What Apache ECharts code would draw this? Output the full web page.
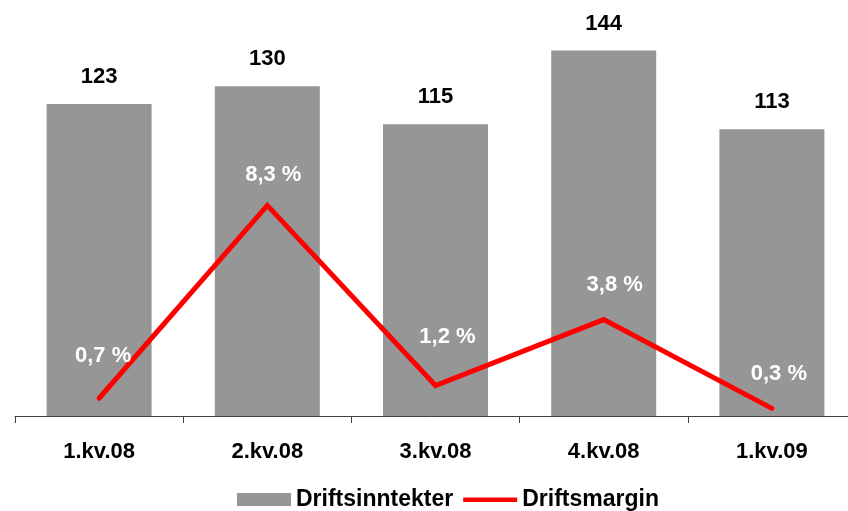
<!DOCTYPE html>
<html>
<head>
<meta charset="utf-8">
<script src="https://cdn.jsdelivr.net/npm/echarts@6/dist/echarts.min.js"></script>
<style>html,body{margin:0;padding:0;background:#fff}#c{width:848px;height:511px}</style>
</head>
<body>
<div id="c"></div>
<script>
var categories = ['1.kv.08', '2.kv.08', '3.kv.08', '4.kv.08', '1.kv.09'];
var driftsinntekter = [123, 130, 115, 144, 113];
var driftsmargin = [0.7, 8.3, 1.2, 3.8, 0.3];
var marginLabelOffsets = [[4, -31], [6, -19], [12, -37], [11, -23], [7, -23]];

var font = '"Liberation Sans", Arial, sans-serif';
var chart = echarts.init(document.getElementById('c'), null, {renderer: 'canvas'});
chart.setOption({
  animation: false,
  backgroundColor: '#ffffff',
  grid: {left: 15, top: 10, width: 841, height: 406, containLabel: false, outerBoundsMode: 'none'},
  legend: {
    left: 237, top: 488, padding: 0,
    itemWidth: 54, itemHeight: 13, itemGap: 10,
    textStyle: {fontFamily: font, fontWeight: 'bold', fontSize: 23, color: '#000'},
    data: [
      {name: 'Driftsinntekter', icon: 'rect'},
      {name: 'Driftsmargin', icon: 'path://M0,0 M0,4.5 L54,4.5 L54,9 L0,9 Z M54,13'}
    ]
  },
  xAxis: {
    type: 'category',
    data: categories,
    axisLine: {lineStyle: {color: '#404040', width: 1}},
    axisTick: {show: true, length: 7, lineStyle: {color: '#404040'}},
    axisLabel: {fontFamily: font, fontWeight: 'bold', fontSize: 22, color: '#000', margin: 25}
  },
  yAxis: [
    {type: 'value', min: 0, max: 160, show: false, splitLine: {show: false}},
    {type: 'value', min: 0, max: 16, show: false, splitLine: {show: false}}
  ],
  series: [
    {
      name: 'Driftsinntekter',
      type: 'bar',
      data: driftsinntekter,
      barWidth: 105,
      itemStyle: {color: '#969696'},
      label: {show: true, position: 'top', distance: 16, fontFamily: font, fontWeight: 'bold', fontSize: 22, color: '#000'}
    },
    {
      name: 'Driftsmargin',
      type: 'line',
      yAxisIndex: 1,
      data: driftsmargin.map(function (v, i) {
        return {value: v, label: {offset: marginLabelOffsets[i]}};
      }),
      symbol: 'circle',
      symbolSize: 1,
      showSymbol: true,
      itemStyle: {color: '#ff0000'},
      lineStyle: {color: '#ff0000', width: 5, cap: 'round', join: 'miter'},
      label: {
        show: true, position: 'top', distance: 0,
        fontFamily: font, fontWeight: 'bold', fontSize: 22, color: '#ffffff',
        formatter: function (p) { return String(p.value).replace('.', ',') + ' %'; }
      },
      z: 3
    }
  ]
});
</script>
</body>
</html>
